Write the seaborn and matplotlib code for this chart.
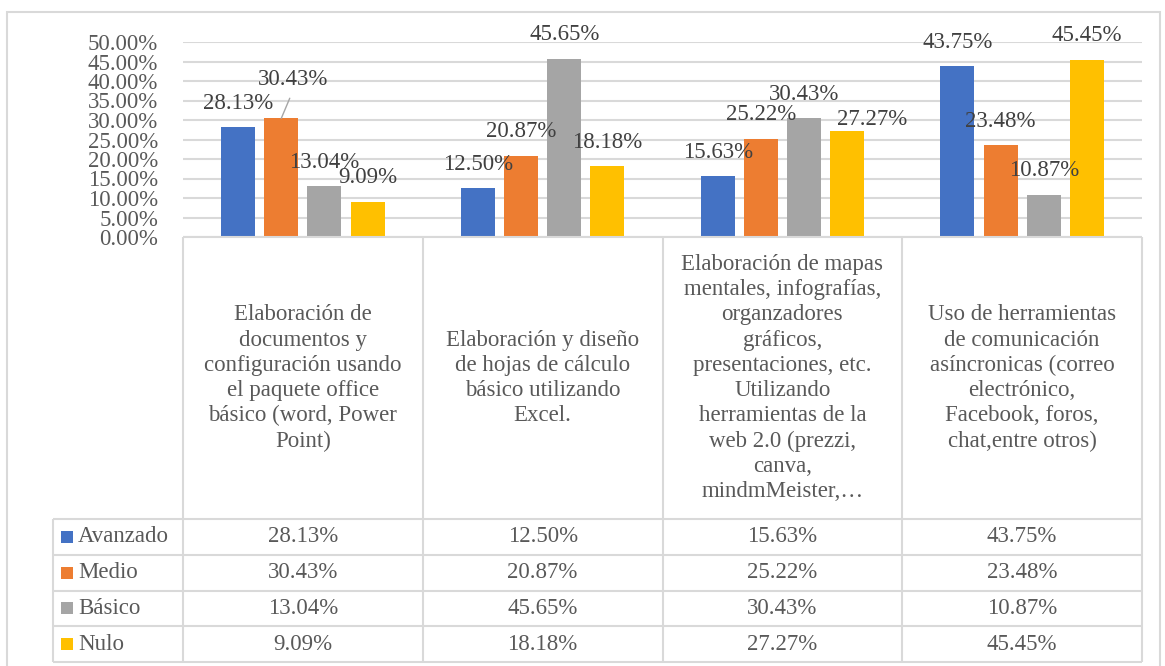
import pandas as pd
import numpy as np
import matplotlib
matplotlib.use("Agg")
import matplotlib.pyplot as plt
from matplotlib.ticker import FuncFormatter, MultipleLocator
from matplotlib.patches import Rectangle
import seaborn as sns

# Data
categorias = [
    "Elaboración de\ndocumentos y\nconfiguración usando\nel paquete office\nbásico (word, Power\nPoint)",
    "Elaboración y diseño\nde hojas de cálculo\nbásico utilizando\nExcel.",
    "Elaboración de mapas\nmentales, infografías,\norganzadores\ngráficos,\npresentaciones, etc.\nUtilizando\nherramientas de la\nweb 2.0 (prezzi,\ncanva,\nmindmMeister,…",
    "Uso de herramientas\nde comunicación\nasíncronicas (correo\nelectrónico,\nFacebook, foros,\nchat,entre otros)",
]
niveles = ["Avanzado", "Medio", "Básico", "Nulo"]
avanzado = [28.13, 12.50, 15.63, 43.75]
medio = [30.43, 20.87, 25.22, 23.48]
basico = [13.04, 45.65, 30.43, 10.87]
nulo = [9.09, 18.18, 27.27, 45.45]
colores = ["#4472C4", "#ED7D31", "#A5A5A5", "#FFC000"]

series = [avanzado, medio, basico, nulo]
df = pd.DataFrame({
    "cat": np.tile(np.arange(len(categorias)), len(niveles)),
    "nivel": np.repeat(niveles, len(categorias)),
    "valor": np.concatenate(series),
})

sns.set_style("white")
plt.rcParams["font.family"] = ["Liberation Serif", "DejaVu Serif"]
fs = 16.5
txt_gray = "#595959"
lbl_gray = "#404040"
line_gray = "#D9D9D9"

W, H = 1165, 666
fig = plt.figure(figsize=(W / 100, H / 100), dpi=100)

# outer chart border
fig.patches.append(Rectangle((7 / W, -0.01), (1160 - 7) / W, (H - 12) / H + 0.01,
                             transform=fig.transFigure, fill=False,
                             edgecolor=line_gray, linewidth=1.5))

# bar area
x0, x1, ytop, ybot = 183, 1142, 42, 237
ax = fig.add_axes([x0 / W, (H - ybot) / H, (x1 - x0) / W, (ybot - ytop) / H])
sns.barplot(data=df, x="cat", y="valor", hue="nivel", palette=colores,
            width=0.72, gap=0.21, saturation=1, linewidth=0, legend=False,
            ax=ax, order=range(len(categorias)), hue_order=niveles)
ax.set_xlim(-0.5, len(categorias) - 0.5)
ax.set_ylim(0, 50)
ax.yaxis.set_major_locator(MultipleLocator(5))
ax.yaxis.set_major_formatter(FuncFormatter(lambda v, p: f"{v:.2f}%"))
ax.tick_params(axis="y", length=0, pad=18, labelsize=fs, labelcolor=txt_gray)
ax.set_xticks([])
ax.set_xlabel("")
ax.set_ylabel("")
ax.grid(axis="y", color=line_gray, linewidth=1.5)
ax.set_axisbelow(True)
for s in ax.spines.values():
    s.set_visible(False)

# data labels (Excel put two of them off-centre)
offsets = {(0, 1): (12, 39), (2, 3): (25, 11)}
for h, cont in enumerate(ax.containers):
    for c, bar in enumerate(cont):
        v = series[h][c]
        dx, dy = offsets.get((c, h), (0, 24))
        arrow = None
        if (c, h) == (0, 1):
            arrow = dict(arrowstyle="-", color="#A6A6A6", lw=1,
                         shrinkA=4, shrinkB=0, relpos=(0.5, 0))
        ax.annotate(f"{v:.2f}%", xy=(bar.get_x() + bar.get_width() / 2, v),
                    xytext=(dx, dy), textcoords="offset pixels",
                    ha="center", va="center", fontsize=fs, color=lbl_gray,
                    annotation_clip=False, arrowprops=arrow)

# data table under the bars
tx0, tbot = 53, 662
header_h = 282
row_h = (tbot - ybot - header_h) / len(niveles)
unit = (x1 - x0) / len(categorias)
leg_w = (x0 - tx0) / unit
tax = fig.add_axes([tx0 / W, (H - tbot) / H, (x1 - tx0) / W, (tbot - ybot) / H])
tax.set_xlim(-0.5 - leg_w, len(categorias) - 0.5)
tax.set_ylim(tbot - ybot, 0)
tax.axis("off")

lk = dict(color=line_gray, linewidth=1.5, clip_on=False)
tax.hlines(0, -0.5, len(categorias) - 0.5, **lk)
for i in range(len(niveles) + 1):
    tax.hlines(header_h + i * row_h, -0.5 - leg_w, len(categorias) - 0.5, **lk)
for c in range(len(categorias) + 1):
    tax.vlines(c - 0.5, 0, tbot - ybot, **lk)
tax.vlines(-0.5 - leg_w, header_h, tbot - ybot, **lk)

for c, cat in enumerate(categorias):
    tax.text(c, header_h / 2, cat, ha="center", va="center", fontsize=fs,
             color=txt_gray, linespacing=1.26)

sq = 12 / unit
for i, nivel in enumerate(niveles):
    yc = header_h + (i + 0.5) * row_h
    tax.add_patch(Rectangle((-0.5 - leg_w + 8 / unit, yc - 6), sq, 12,
                            color=colores[i], linewidth=0))
    tax.text(-0.5 - leg_w + 25 / unit, yc, nivel, ha="left", va="center",
             fontsize=fs, color=txt_gray)
    for c in range(len(categorias)):
        tax.text(c, yc, f"{series[i][c]:.2f}%", ha="center", va="center",
                 fontsize=fs, color=txt_gray)

fig.savefig("out.png", dpi=100)
